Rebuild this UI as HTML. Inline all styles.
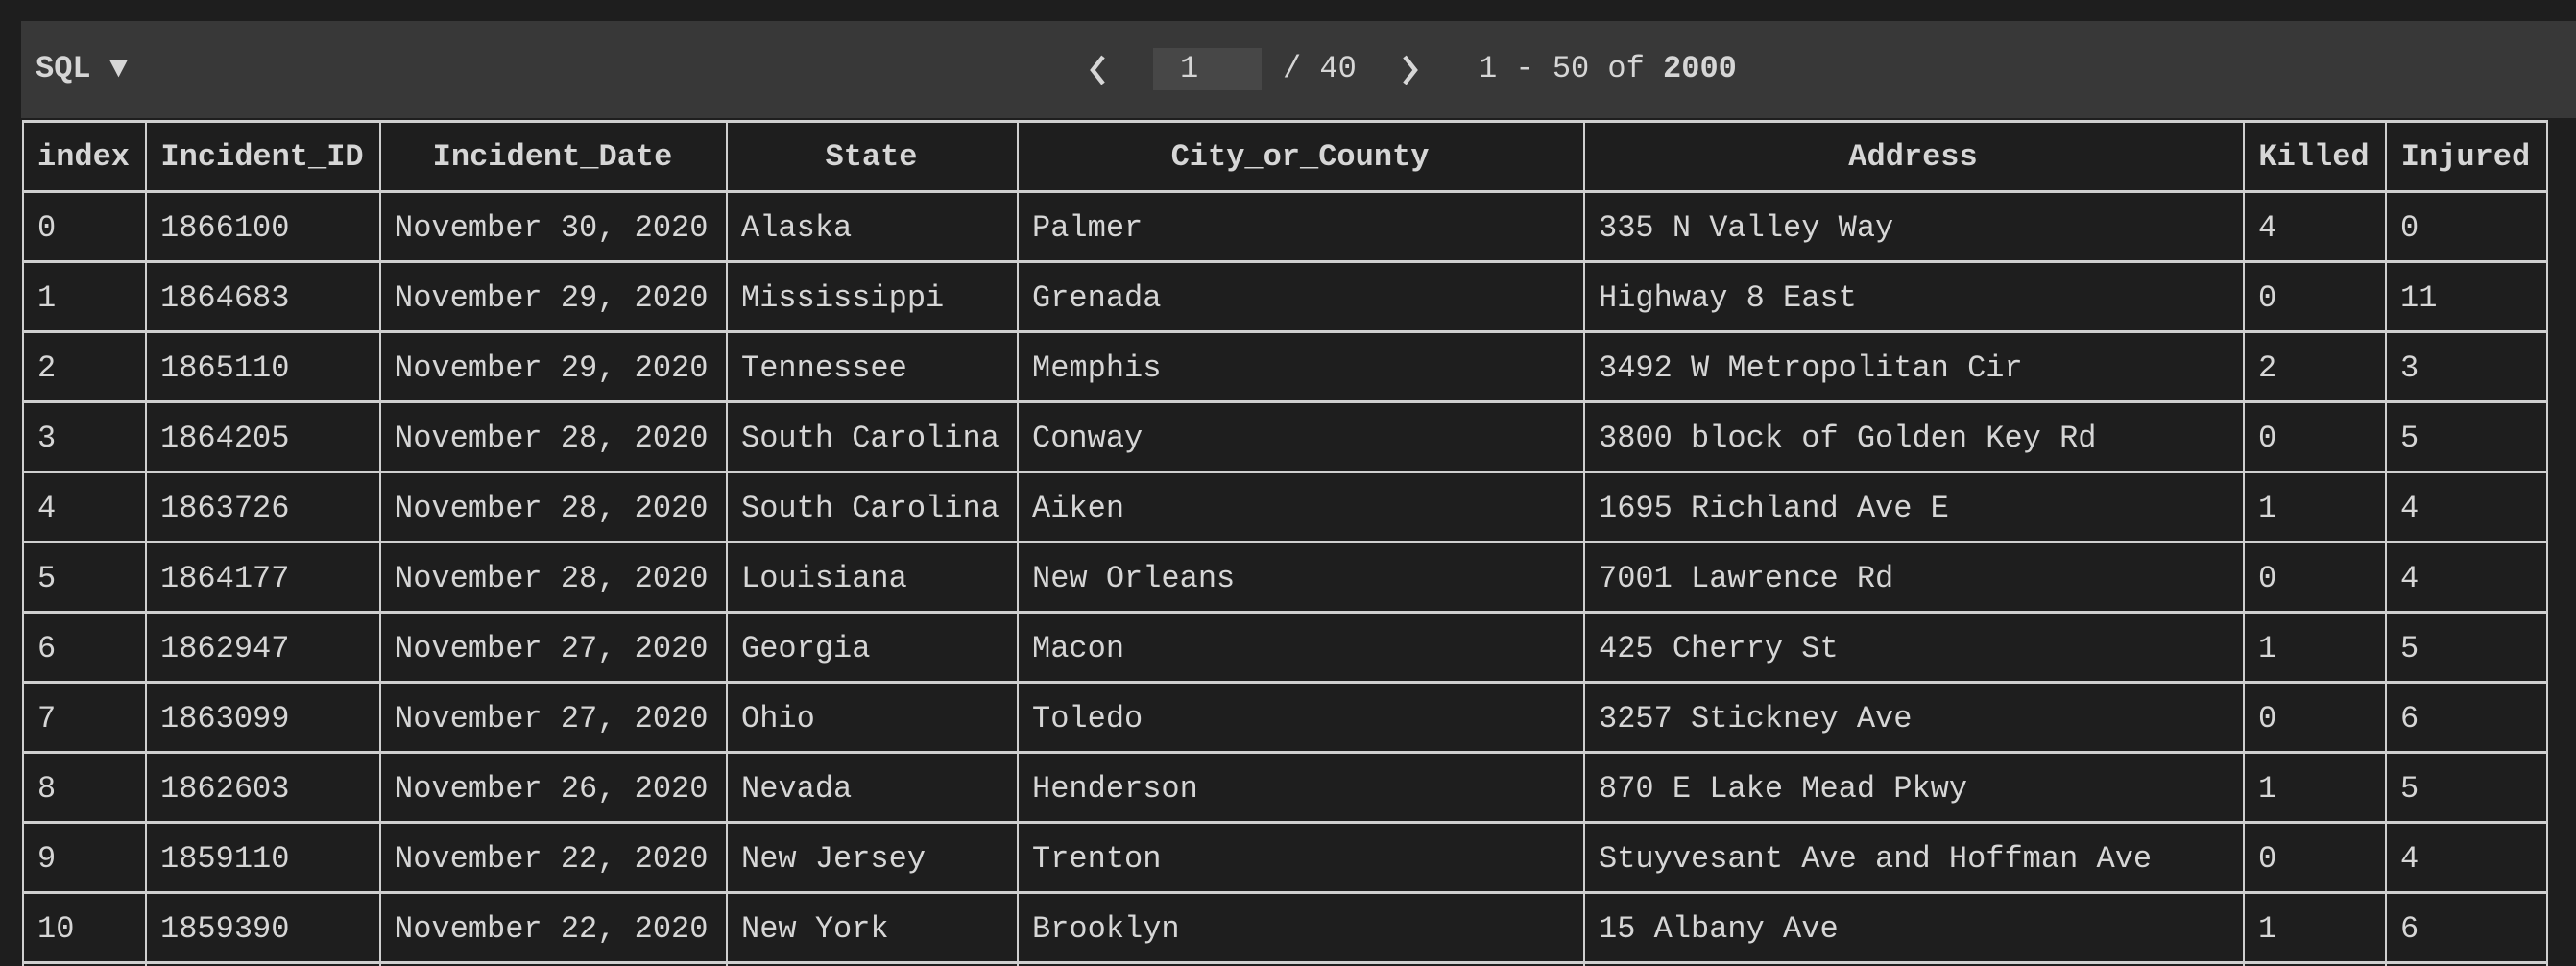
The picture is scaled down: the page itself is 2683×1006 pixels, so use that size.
<!DOCTYPE html>
<html><head><meta charset="utf-8">
<style>
html,body{margin:0;padding:0;background:#1e1e1e;width:2683px;height:1006px;overflow:hidden}
body{font-family:"Liberation Mono","DejaVu Sans Mono",monospace;color:#d6d6d6;position:relative}
#toolbar{position:absolute;left:22px;top:22px;width:2661px;height:101px;background:#383838}
.t{position:absolute;white-space:nowrap;font-size:32px;line-height:40px}
.c{position:absolute;white-space:nowrap;font-size:32px;box-sizing:border-box}
.h{font-weight:bold;text-align:center}
.line{position:absolute;background:#cfcfcf}
</style></head><body>
<div id="toolbar"></div>
<div class="t" style="left:37px;top:52px;font-weight:bold">SQL ▼</div>
<svg style="position:absolute;left:1130px;top:55px" width="26" height="36"><polyline points="19,4 8,18 19,32" fill="none" stroke="#d6d6d6" stroke-width="4.5"/></svg>
<div style="position:absolute;left:1201px;top:50px;width:113px;height:44px;background:#474747"></div>
<div class="t" style="left:1229px;top:52px">1</div>
<div class="t" style="left:1336px;top:52px">/ 40</div>
<svg style="position:absolute;left:1456px;top:55px" width="26" height="36"><polyline points="7,4 18,18 7,32" fill="none" stroke="#d6d6d6" stroke-width="4.5"/></svg>
<div class="t" style="left:1540px;top:52px">1 - 50 of <b>2000</b></div>
<div id="tbl"></div>
<script>
const columns=["index","Incident_ID","Incident_Date","State","City_or_County","Address","Killed","Injured"];
const ids=["1866100","1864683","1865110","1864205","1863726","1864177","1862947","1863099","1862603","1859110","1859390"];
const dates=["November 30, 2020","November 29, 2020","November 29, 2020","November 28, 2020","November 28, 2020","November 28, 2020","November 27, 2020","November 27, 2020","November 26, 2020","November 22, 2020","November 22, 2020"];
const states=["Alaska","Mississippi","Tennessee","South Carolina","South Carolina","Louisiana","Georgia","Ohio","Nevada","New Jersey","New York"];
const cities=["Palmer","Grenada","Memphis","Conway","Aiken","New Orleans","Macon","Toledo","Henderson","Trenton","Brooklyn"];
const addresses=["335 N Valley Way","Highway 8 East","3492 W Metropolitan Cir","3800 block of Golden Key Rd","1695 Richland Ave E","7001 Lawrence Rd","425 Cherry St","3257 Stickney Ave","870 E Lake Mead Pkwy","Stuyvesant Ave and Hoffman Ave","15 Albany Ave"];
const killed=[4,0,2,0,1,0,1,0,1,0,1];
const injured=[0,11,3,5,4,4,5,6,5,4,6];
const colX=[23,151,395,756,1059,1649,2336,2484,2652];
const top0=125,headH=73,rowH=73;
const tbl=document.getElementById('tbl');
function add(el){tbl.appendChild(el);return el;}
for(let i=0;i<colX.length;i++){
  const l=document.createElement('div');l.className='line';
  
  
  l.style.cssText=`left:${colX[i]}px;top:${top0}px;width:2px;height:${1006-top0}px`;add(l);
}
const rowsN=ids.length;
for(let r=0;r<=rowsN+1;r++){
  const y=r==0?top0:top0+headH+(r-1)*rowH;
  const l=document.createElement('div');l.className='line';
  
  
  l.style.cssText=`left:${colX[0]}px;top:${y}px;width:${colX[colX.length-1]-colX[0]+2}px;height:3px`;add(l);
}
columns.forEach((c,i)=>{
  const d=document.createElement('div');d.className='c h';
  
  
  d.style.cssText=`left:${colX[i]}px;top:${top0+2}px;width:${colX[i+1]-colX[i]}px;height:${headH}px;line-height:${headH}px`;
  d.textContent=c;add(d);
});
for(let r=0;r<rowsN;r++){
  const vals=[r,ids[r],dates[r],states[r],cities[r],addresses[r],killed[r],injured[r]];
  const y=top0+headH+r*rowH;
  vals.forEach((v,i)=>{
    const d=document.createElement('div');d.className='c';
    
    
    d.style.cssText=`left:${colX[i]+16}px;top:${y+3}px;height:${rowH}px;line-height:${rowH}px`;
    d.textContent=v;add(d);
  });
}
</script>
</body></html>
